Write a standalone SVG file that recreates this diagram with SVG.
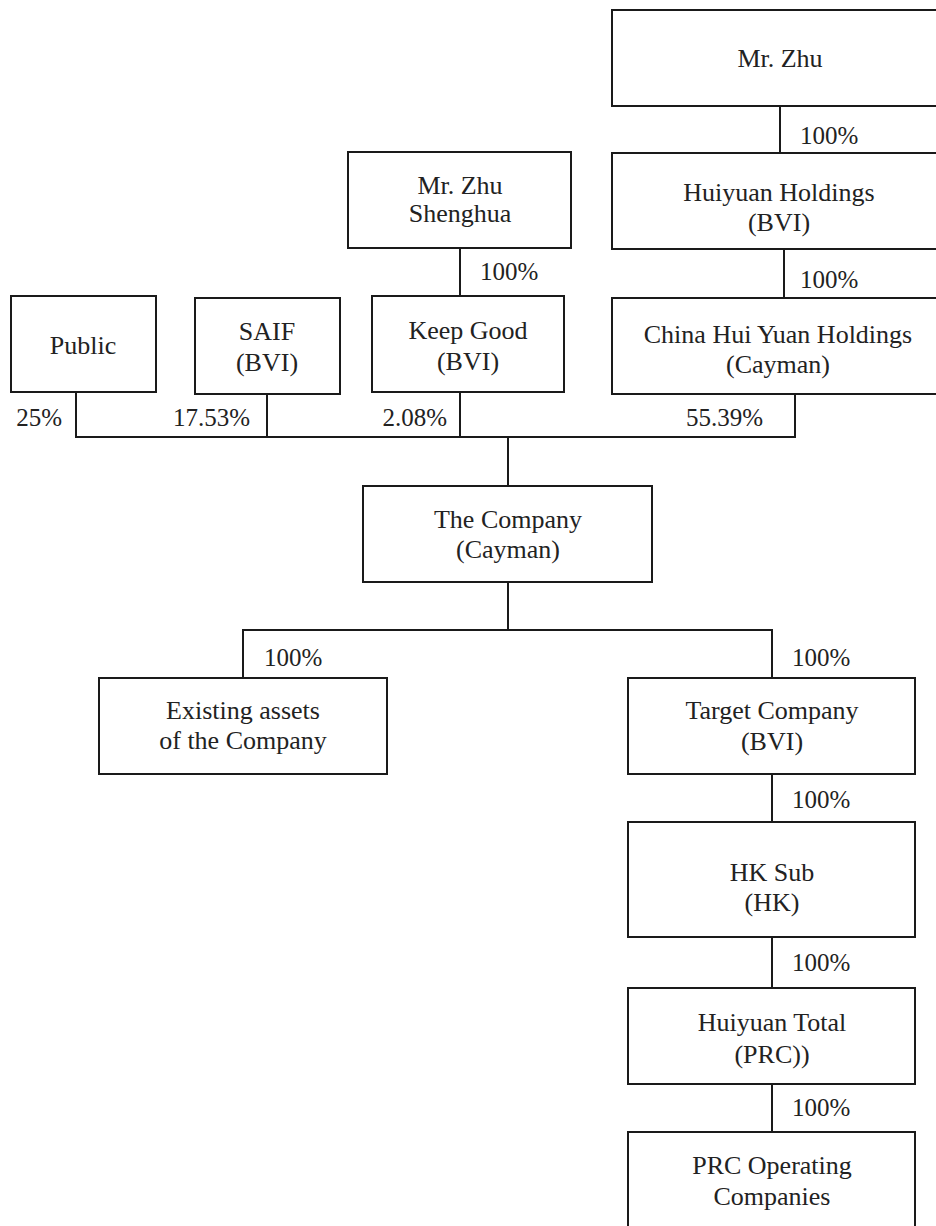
<svg xmlns="http://www.w3.org/2000/svg" width="936" height="1226" viewBox="0 0 936 1226">
<style>
.box{fill:#fff;stroke:#1a1a1a;stroke-width:2}
.ln{fill:none;stroke:#1a1a1a;stroke-width:2}
text{font-family:"Liberation Serif","Times New Roman",serif;font-size:26px;fill:#222}
.p{font-size:25px}
.c{text-anchor:middle}
.e{text-anchor:end}
</style>
<rect width="936" height="1226" fill="#fff"/>
<g id="connectors">
<line class="ln" x1="780" y1="106" x2="780" y2="153"/>
<line class="ln" x1="784" y1="249" x2="784" y2="298"/>
<line class="ln" x1="460" y1="248" x2="460" y2="296"/>
<polyline class="ln" points="76,392 76,437 795,437 795,394"/>
<line class="ln" x1="267" y1="394" x2="267" y2="437"/>
<line class="ln" x1="460" y1="392" x2="460" y2="437"/>
<line class="ln" x1="508" y1="437" x2="508" y2="486"/>
<line class="ln" x1="508" y1="582" x2="508" y2="630"/>
<polyline class="ln" points="243,678 243,630 772,630 772,678"/>
<line class="ln" x1="772" y1="774" x2="772" y2="822"/>
<line class="ln" x1="772" y1="937" x2="772" y2="988"/>
<line class="ln" x1="772" y1="1084" x2="772" y2="1132"/>
<text class="p" x="800" y="144">100%</text>
<text class="p" x="800" y="288">100%</text>
<text class="p" x="480" y="280">100%</text>
<text class="p e" x="62" y="426">25%</text>
<text class="p e" x="250" y="426">17.53%</text>
<text class="p e" x="447" y="426">2.08%</text>
<text class="p e" x="763" y="426">55.39%</text>
<text class="p" x="264" y="666">100%</text>
<text class="p" x="792" y="666">100%</text>
<text class="p" x="792" y="808">100%</text>
<text class="p" x="792" y="971">100%</text>
<text class="p" x="792" y="1116">100%</text>
</g>
<g id="mr-zhu"><rect class="box" x="612" y="10" width="336" height="96"/><text class="c" x="780" y="67">Mr. Zhu</text></g>
<g id="huiyuan-holdings"><rect class="box" x="612" y="153" width="336" height="96"/><text class="c" x="779" y="201">Huiyuan Holdings</text><text class="c" x="779" y="231">(BVI)</text></g>
<g id="china-hui-yuan"><rect class="box" x="612" y="298" width="336" height="96"/><text class="c" x="778" y="343">China Hui Yuan Holdings</text><text class="c" x="778" y="373">(Cayman)</text></g>
<g id="mr-zhu-shenghua"><rect class="box" x="348" y="152" width="223" height="96"/><text class="c" x="460" y="194">Mr. Zhu</text><text class="c" x="460" y="222">Shenghua</text></g>
<g id="public"><rect class="box" x="11" y="296" width="145" height="96"/><text class="c" x="83" y="354">Public</text></g>
<g id="saif"><rect class="box" x="195" y="298" width="145" height="96"/><text class="c" x="267" y="340">SAIF</text><text class="c" x="267" y="371">(BVI)</text></g>
<g id="keep-good"><rect class="box" x="372" y="296" width="192" height="96"/><text class="c" x="468" y="339">Keep Good</text><text class="c" x="468" y="370">(BVI)</text></g>
<g id="the-company"><rect class="box" x="363" y="486" width="289" height="96"/><text class="c" x="508" y="528">The Company</text><text class="c" x="508" y="558">(Cayman)</text></g>
<g id="existing-assets"><rect class="box" x="99" y="678" width="288" height="96"/><text class="c" x="243" y="719">Existing assets</text><text class="c" x="243" y="749">of the Company</text></g>
<g id="target-company"><rect class="box" x="628" y="678" width="287" height="96"/><text class="c" x="772" y="719">Target Company</text><text class="c" x="772" y="750">(BVI)</text></g>
<g id="hk-sub"><rect class="box" x="628" y="822" width="287" height="115"/><text class="c" x="772" y="881">HK Sub</text><text class="c" x="772" y="911">(HK)</text></g>
<g id="huiyuan-total"><rect class="box" x="628" y="988" width="287" height="96"/><text class="c" x="772" y="1031">Huiyuan Total</text><text class="c" x="772" y="1063">(PRC))</text></g>
<g id="prc-operating"><rect class="box" x="628" y="1132" width="287" height="110"/><text class="c" x="772" y="1174">PRC Operating</text><text class="c" x="772" y="1205">Companies</text></g>
</svg>
